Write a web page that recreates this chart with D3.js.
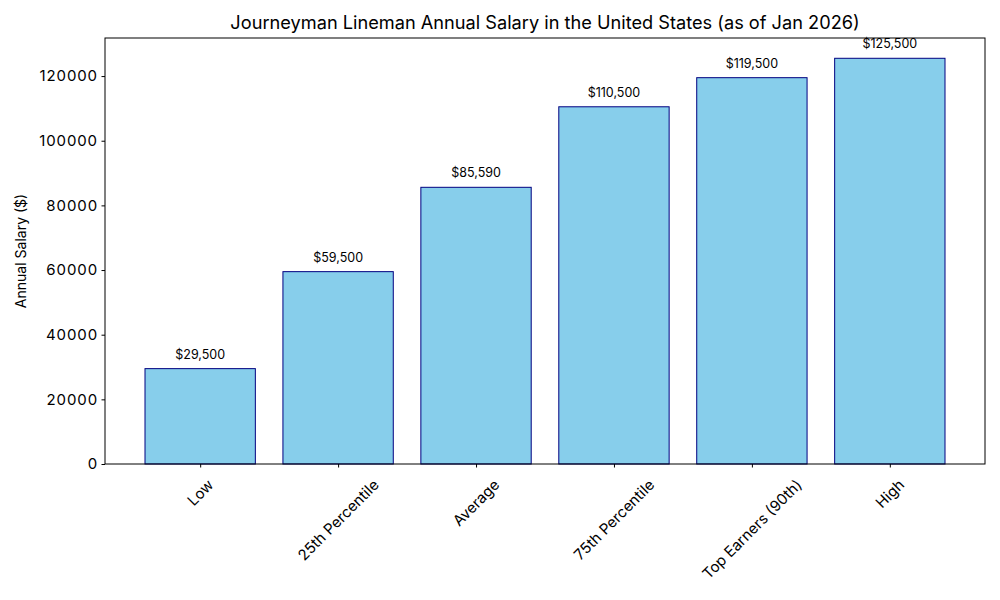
<!DOCTYPE html>
<html><head><meta charset="utf-8">
<script src="https://cdn.jsdelivr.net/npm/d3@7"></script>
<style>body{margin:0;background:#fff}svg{font-family:"Inter","Lato",sans-serif}</style>
</head><body><svg id="c" width="1000" height="600"></svg>
<script>
const categories = ["Low","25th Percentile","Average","75th Percentile","Top Earners (90th)","High"];
const salaries = [29500,59500,85590,110500,119500,125500];
const yTicks = [0,20000,40000,60000,80000,100000,120000];
const title = "Journeyman Lineman Annual Salary in the United States (as of Jan 2026)";
const yLabel = "Annual Salary ($)";

const svg = d3.select("#c");
const L=105,R=985,T=38,B=464;
const x = d3.scaleLinear().domain([-0.69,5.69]).range([L,R]);
const y = d3.scaleLinear().domain([0,125500*1.05]).range([B,T]);
const bw = 0.8;

svg.append("g").selectAll("rect").data(salaries).join("rect")
  .attr("x",(d,i)=>x(i-bw/2)).attr("width",(d,i)=>x(i+bw/2)-x(i-bw/2))
  .attr("y",d=>y(d)).attr("height",d=>y(0)-y(d))
  .attr("fill","#87CEEB").attr("stroke","#000080").attr("stroke-width",1);

svg.append("g").selectAll("text").data(salaries).join("text")
  .attr("x",(d,i)=>x(i)).attr("y",d=>y(d)-10)
  .attr("text-anchor","middle").attr("font-size",12.5).attr("fill","#000")
  .text(d=>"$"+d3.format(",")(d));

// frame
svg.append("rect").attr("x",L).attr("y",T).attr("width",R-L).attr("height",B-T)
  .attr("fill","none").attr("stroke","#000").attr("stroke-width",1);

// y axis
const ya = svg.append("g").attr("transform",`translate(${L},0)`)
  .call(d3.axisLeft(y).tickValues(yTicks).tickFormat(d=>d).tickSize(3.5).tickPadding(3.5));
ya.select(".domain").remove();
ya.selectAll("text").attr("font-size",15).attr("fill","#000").attr("letter-spacing","0.9px")
  .style("font-family",'"Inter","Lato",sans-serif');
ya.selectAll("line").attr("stroke","#000");

// x axis
const xa = svg.append("g").attr("transform",`translate(0,${B})`)
  .call(d3.axisBottom(x).tickValues(d3.range(categories.length)).tickFormat("").tickSize(3.5));
xa.select(".domain").remove();
xa.selectAll("line").attr("stroke","#000");

const lg = svg.append("g");
categories.forEach((c,i)=>{
  const t = lg.append("text").attr("font-size",15).attr("fill","#000")
    .attr("text-anchor","middle").attr("dominant-baseline","central").text(c);
  const w = t.node().getComputedTextLength();
  const h = 14;
  const cy = 477 + (w+h)/(2*Math.SQRT2);
  t.attr("transform",`translate(${x(i)},${cy}) rotate(-45)`);
});

svg.append("text").attr("x",(L+R)/2).attr("y",29).attr("text-anchor","middle")
  .attr("font-size",18.2).attr("fill","#000").text(title);
svg.append("text").attr("transform",`translate(26,${(T+B)/2}) rotate(-90)`)
  .attr("text-anchor","middle").attr("font-size",14).attr("fill","#000").text(yLabel);
</script></body></html>
